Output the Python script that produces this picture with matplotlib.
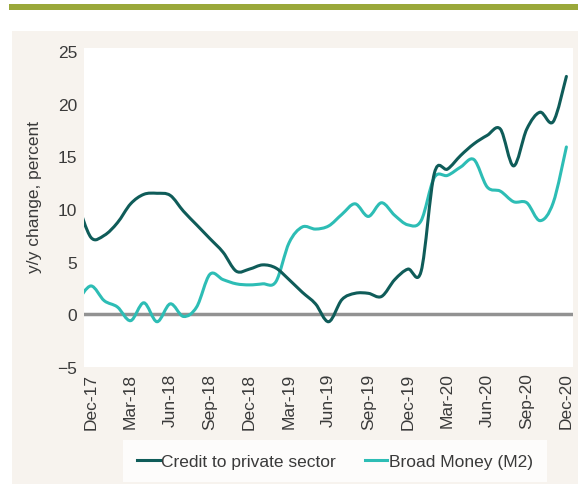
import matplotlib
matplotlib.use("Agg")
import matplotlib.pyplot as plt
from matplotlib.patches import Rectangle, PathPatch
from matplotlib.path import Path
from matplotlib.lines import Line2D

plt.rcParams['font.family'] = ['Liberation Sans', 'DejaVu Sans']

months = ["Nov-17", "Dec-17", "Jan-18", "Feb-18", "Mar-18", "Apr-18", "May-18", "Jun-18", "Jul-18",
          "Aug-18", "Sep-18", "Oct-18", "Nov-18", "Dec-18", "Jan-19", "Feb-19", "Mar-19", "Apr-19",
          "May-19", "Jun-19", "Jul-19", "Aug-19", "Sep-19", "Oct-19", "Nov-19", "Dec-19", "Jan-20",
          "Feb-20", "Mar-20", "Apr-20", "May-20", "Jun-20", "Jul-20", "Aug-20", "Sep-20", "Oct-20",
          "Nov-20", "Dec-20"]
credit = [10.5, 7.3, 7.5, 8.7, 10.5, 11.4, 11.5, 11.3, 9.8, 8.5, 7.2, 5.9, 4.1, 4.3, 4.7, 4.4,
          3.3, 2.1, 1.0, -0.7, 1.4, 2.0, 2.0, 1.7, 3.3, 4.3, 4.1, 13.4, 13.8, 15.1, 16.2, 17.0,
          17.6, 14.1, 17.6, 19.2, 18.3, 22.6]
m2 = [1.3, 2.7, 1.3, 0.7, -0.6, 1.1, -0.7, 1.0, -0.2, 0.7, 3.8, 3.3, 2.9, 2.8, 2.9, 3.1, 6.8,
      8.3, 8.1, 8.4, 9.5, 10.5, 9.3, 10.6, 9.4, 8.5, 8.9, 13.0, 13.2, 14.0, 14.7, 12.1, 11.7,
      10.7, 10.6, 8.9, 10.6, 15.9]
yticks = [-5, 0, 5, 10, 15, 20, 25]
ytick_labels = ["\u22125", "0", "5", "10", "15", "20", "25"]
series_names = ["Credit to private sector", "Broad Money (M2)"]

dark = "#0f5c59"
light = "#2dbdb5"
txt = "#3a3a3a"


def smooth_path(xs, ys):
    # Bezier path through the data points (Catmull-Rom style tangents)
    n = len(xs)
    verts = [(xs[0], ys[0])]
    codes = [Path.MOVETO]
    for i in range(n - 1):
        x0, y0 = (xs[i - 1], ys[i - 1]) if i > 0 else (xs[i], ys[i])
        x1, y1 = xs[i], ys[i]
        x2, y2 = xs[i + 1], ys[i + 1]
        x3, y3 = (xs[i + 2], ys[i + 2]) if i + 2 < n else (x2, y2)
        c1 = (x1 + (x2 - x0) / 6.0, y1 + (y2 - y0) / 6.0)
        c2 = (x2 - (x3 - x1) / 6.0, y2 - (y3 - y1) / 6.0)
        verts += [c1, c2, (x2, y2)]
        codes += [Path.CURVE4] * 3
    return Path(verts, codes)


fig = plt.figure(figsize=(5.78, 4.89), dpi=100)
fig.patch.set_facecolor("white")
fig.add_artist(Rectangle((12/578, 4/489), 1 - 12/578, (485-32)/489, transform=fig.transFigure,
                         facecolor="#f7f3ee", edgecolor="none", zorder=0))
fig.add_artist(Rectangle((9/578, 1 - 11/489), 1 - 9/578, 6/489, transform=fig.transFigure,
                         facecolor="#9aa83a", edgecolor="none", zorder=0))

ax = fig.add_axes([84/578, 1 - 368/489, (573-84)/578, (368-49)/489])
ax.set_facecolor("white")
x = [i - 1 for i in range(len(months))]
ax.axhline(0, color="#929292", lw=2.5, zorder=1)
for ys, col, z in [(m2, light, 2), (credit, dark, 3)]:
    ax.add_patch(PathPatch(smooth_path(x, ys), facecolor="none", edgecolor=col, lw=2.2,
                           joinstyle="round", capstyle="round", zorder=z))
ax.set_xlim(-0.53, 36.5)
ax.set_ylim(-5, 25.3)
ax.set_yticks(yticks)
ax.set_yticklabels(ytick_labels)
ax.set_xticks(x[1::3])
ax.set_xticklabels(months[1::3], rotation=90)
ax.tick_params(axis="both", length=0, labelsize=12.5, colors=txt)
ax.tick_params(axis="y", pad=5)
ax.tick_params(axis="x", pad=4)
for s in ax.spines.values():
    s.set_visible(False)

fig.text(35/578, 1 - 197/489, "y/y change, percent", rotation=90, ha="center", va="center",
         fontsize=12.5, color=txt)

handles = [Line2D([], [], color=dark, lw=2.2), Line2D([], [], color=light, lw=2.2)]
leg = fig.legend(handles, series_names, loc="center", bbox_to_anchor=(335/578, 1 - 462/489),
                 ncol=2, frameon=True, fontsize=12.5, handlelength=1.3, handletextpad=0.1,
                 columnspacing=1.65, borderpad=0.8, fancybox=False)
leg.get_frame().set_facecolor("white")
leg.get_frame().set_edgecolor("none")
for t in leg.get_texts():
    t.set_color(txt)

fig.savefig("out.png", dpi=100, facecolor=fig.get_facecolor())
